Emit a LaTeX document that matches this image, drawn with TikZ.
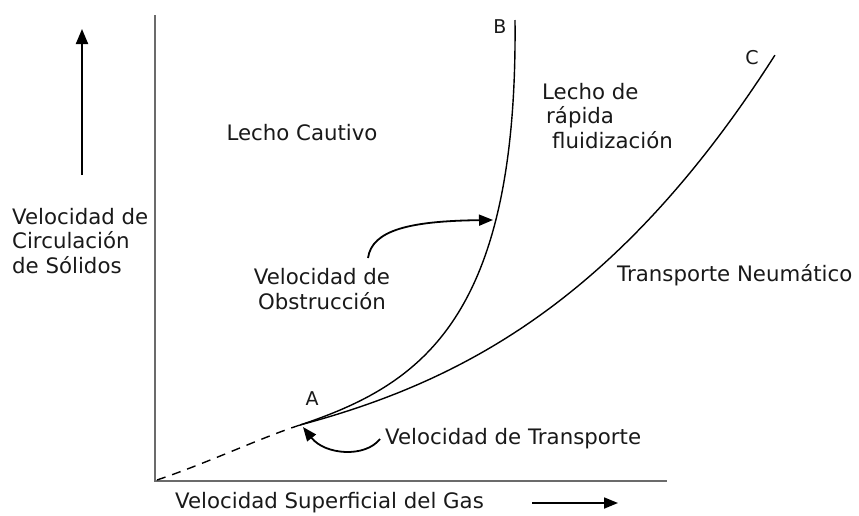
\documentclass[tikz,border=0pt]{standalone}
\usepackage{fontspec}
\setmainfont{DejaVu Sans}
\usetikzlibrary{arrows.meta}
\tikzset{
  lbl/.style={inner sep=0pt, text=black!90, font=\fontsize{21.3}{24.5}\selectfont},
  ptlbl/.style={inner sep=0pt, text=black!90, font=\fontsize{19}{22}\selectfont},
  axisline/.style={draw=black!58, line width=2.4pt},
  curve/.style={draw=black, line width=1.4pt},
  bigarrow/.style={draw=black, line width=2pt, -{Triangle[length=15pt,width=12pt]}},
  callout/.style={draw=black, line width=1.8pt, -{Triangle[length=14pt,width=11pt]}}
}
\begin{document}
\begin{tikzpicture}[x=1pt,y=-1pt]
\useasboundingbox (0,0) rectangle (859,515);
% axes
\coordinate (O) at (155,481);
\coordinate (Ytop) at (155,15);
\coordinate (Xend) at (667,481);
\draw[axisline] (Ytop) -- (O) -- (Xend);
% axis direction arrows
\coordinate (ua0) at (82,175);
\coordinate (ua1) at (82,29);
\draw[bigarrow] (ua0) -- (ua1);
\coordinate (ra0) at (532,503);
\coordinate (ra1) at (618,503);
\draw[callout] (ra0) -- (ra1);
% points
\coordinate (A) at (300,425);
\coordinate (Bend) at (515,20);
\coordinate (Cend) at (775,55);
% dashed extension
\draw[curve, dash pattern=on 9pt off 7pt] (157,480) .. controls (210,462) and (260,438) .. (A);
% curve B
\draw[curve] (A) .. controls (420,385) and (518,320) .. (Bend);
% curve C
\draw[curve, line join=round] plot[domain=0:4.75, samples=90]
  ({300+100*\x},{425-(26.88*\x+4.886*\x*\x+1.2324*\x*\x*\x)});
% labels
\node[ptlbl] (la) at (312,399) {A};
\node[ptlbl] (lb) at (500,27) {B};
\node[ptlbl] (lc) at (752,58) {C};
\node[lbl, anchor=west, align=left] (ylab) at (12,241) {Velocidad de\\Circulación\\de Sólidos};
\node[lbl] (cautivo) at (302,133) {Lecho Cautivo};
\node[lbl, align=center] (obstr) at (322,289) {Velocidad de\\Obstrucción};
\node[lbl, anchor=west, align=left] (rapida) at (542,116) {Lecho de\\\hspace*{4pt}rápida\\\hspace*{10pt}fluidización};
\node[lbl, anchor=west] (neum) at (617,275) {Transporte Neumático};
\node[lbl, anchor=west] (transp) at (385,439) {Velocidad de Transporte};
\node[lbl, anchor=west] (xlab) at (175,503) {Velocidad Superficial del Gas};
% callout arrows
\coordinate (obtip) at (493,220);
\draw[callout] (368,258) .. controls (372,230) and (410,221) .. (obtip);
\coordinate (trtip) at (303,427);
\draw[callout] (380,439) .. controls (365,458) and (325,455) .. (trtip);
\end{tikzpicture}
\end{document}
